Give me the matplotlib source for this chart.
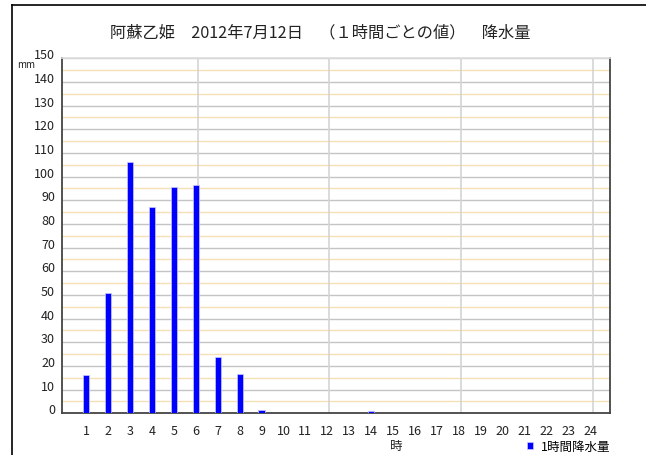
import matplotlib
matplotlib.use('Agg')
import matplotlib.pyplot as plt
from matplotlib.lines import Line2D
from matplotlib.transforms import ScaledTranslation

plt.rcParams['font.family'] = ['Noto Sans CJK JP', 'DejaVu Sans']

# データ（1時間ごとの降水量 mm）
hours = list(range(1, 25))
rain = [16, 51, 106, 87, 95.5, 96.5, 24, 16.5, 1.5, 0, 0, 0,
        0, 1, 0, 0, 0, 0, 0, 0, 0, 0, 0, 0]
title = '阿蘇乙姫　2012年7月12日　（１時間ごとの値）　降水量'
series_label = '1時間降水量'

W, H = 646, 456
fig = plt.figure(figsize=(W / 100, H / 100), dpi=100)
ax = fig.add_axes([62 / W, 1 - 414.3 / H, (609.7 - 62) / W, (414.3 - 59.3) / H])

# 横の補助線（10ごと灰色、5ごとベージュ）
for v in range(5, 150, 10):
    ax.axhline(v, color='#f5dfb5', lw=1, zorder=0)
for v in range(10, 151, 10):
    ax.axhline(v, color='#c4c4c4', lw=1, zorder=0)
# 縦の補助線（6時間ごと）
for h in [6, 12, 18, 24]:
    ax.axvline(h + 0.1, color='#d4d4d4', lw=1.2, zorder=0)

ax.bar(hours, rain, width=0.28, color='#0000ff', edgecolor='#c8c8ff',
       linewidth=0.5, label=series_label, zorder=3)

ax.set_xlim(-0.1, 24.88)
ax.set_ylim(0, 150)
ax.set_xticks(hours)
ax.set_yticks(range(0, 151, 10))
ax.tick_params(length=0, labelsize=9, colors='#222222')
ax.tick_params(axis='x', pad=8)
ax.tick_params(axis='y', pad=5)
for lab in ax.get_yticklabels():
    lab.set_transform(lab.get_transform() + ScaledTranslation(0, 0.05, fig.dpi_scale_trans))

for s in ['left', 'bottom', 'right']:
    ax.spines[s].set_color('#444444')
    ax.spines[s].set_linewidth(1.3)
ax.spines['top'].set_color('#dddddd')
ax.spines['top'].set_linewidth(1.2)

fig.text(320 / W, 1 - 32.5 / H, title, ha='center', va='center', fontsize=11.7, color='#222222')
fig.text(26.5 / W, 1 - 65.5 / H, 'mm', ha='center', va='center', fontsize=7, color='#222222')
fig.text(396 / W, 1 - 446.5 / H, '時', ha='center', va='center', fontsize=9, color='#222222')

ax.legend(loc='center left', bbox_to_anchor=(527 / W, 1 - 447 / H),
          bbox_transform=fig.transFigure, frameon=False, fontsize=9,
          handlelength=0.5, handleheight=0.5, handletextpad=0.6,
          borderpad=0, borderaxespad=0)

# 外枠（左と上）
fig.add_artist(Line2D([12 / W, 12 / W], [0, 1 - 6 / H], color='black', lw=1.2))
fig.add_artist(Line2D([12 / W, 1], [1 - 6 / H, 1 - 6 / H], color='black', lw=1.2))

fig.savefig('out.png', dpi=100)
